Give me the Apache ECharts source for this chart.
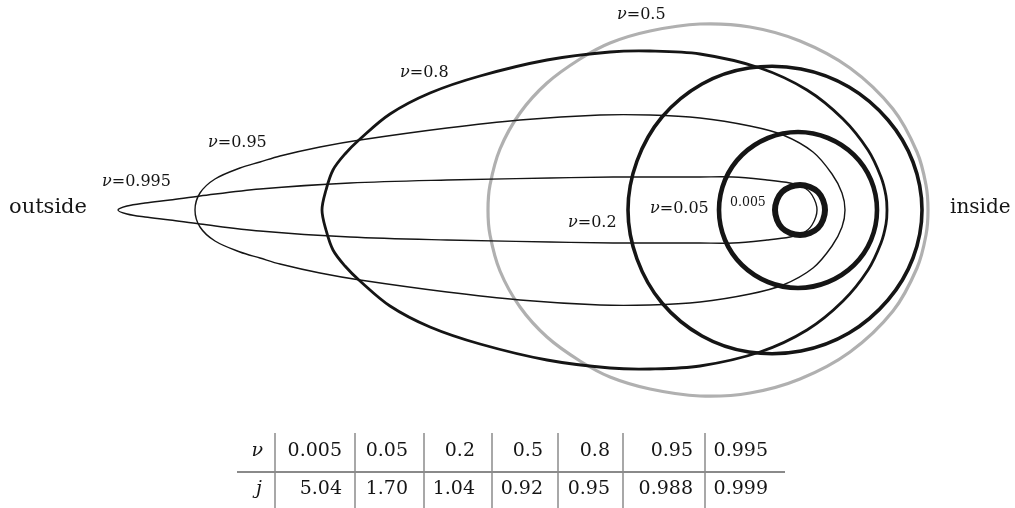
<!DOCTYPE html>
<html><head><meta charset="utf-8">
<script src="https://cdn.jsdelivr.net/npm/echarts@6/dist/echarts.min.js"></script>
<style>html,body{margin:0;padding:0;background:#fff}#c{width:1015px;height:508px}</style>
</head><body><div id="c"></div>
<script>
// ---- data (x to the right, y up; centre of the innermost orbit at 0,0) ----
const nuValues = ['0.005', '0.05', '0.2', '0.5', '0.8', '0.95', '0.995'];
const jValues  = ['5.04', '1.70', '1.04', '0.92', '0.95', '0.988', '0.999'];

const curveNu0005 = [[-25,0],[-23,10],[-18,18],[-10,23],[0,25],[10,23],[18,18],[23,10],[25,0],
  [23,-10],[18,-18],[10,-23],[0,-25],[-10,-23],[-18,-18],[-23,-10]];
const curveNu005 = [[-81,0],[-75,30],[-58,55],[-32,72],[-2,78],[28,72],[54,55],[71,30],[77,0],
  [71,-30],[54,-55],[28,-72],[-2,-78],[-32,-72],[-58,-55],[-75,-30]];
const curveNu02 = [[-172,0],[-163,49],[-138,93],[-98,126],[-51,142],[1,141],[49,123],[88,90],[113,48],[122,0],
  [113,-48],[88,-90],[49,-123],[1,-141],[-51,-142],[-98,-126],[-138,-93],[-163,-49]];
const curveNu05 = [[-312,0],[-310,25],[-300,61],[-280,97],[-253,127],[-220,151],[-190,167],[-150,179],[-100,186],[-50,183],[0,169],[50,142],[93,101],[117,58],[126,25],[128,0],
  [126,-25],[117,-58],[93,-101],[50,-142],[0,-169],[-50,-183],[-100,-186],[-150,-179],[-190,-167],[-220,-151],[-253,-127],[-280,-97],[-300,-61],[-310,-25]];
const curveNu08 = [[-478,0],[-474,20],[-467,40],[-455,56],[-440,71],[-410,96],[-370,117],[-320,134],[-253,150],[-190,158],[-150,159],[-100,156],[-40,142],[7,120],[43,91],[68,60],[81,33],[86,14],[87,0],
  [86,-14],[81,-33],[68,-60],[43,-91],[7,-120],[-40,-142],[-100,-156],[-150,-159],[-190,-158],[-253,-150],[-320,-134],[-370,-117],[-410,-96],[-440,-71],[-455,-56],[-467,-40],[-474,-20]];
const curveNu095 = [[-605,0],[-600,17],[-585,31],[-560,42],[-540,48],[-520,54],[-480,63],[-440,70],[-353,82],[-280,90],[-200,95],[-150,95],[-100,92],[-50,84],[-17,75],[13,58],[32,36],[42,17],[45,0],
  [42,-17],[32,-36],[13,-58],[-17,-75],[-50,-84],[-100,-92],[-150,-95],[-200,-95],[-280,-90],[-353,-82],[-440,-70],[-480,-63],[-520,-54],[-540,-48],[-560,-42],[-585,-31],[-600,-17]];
const curveNu0995 = [[-682,0],[-673,4],[-655,7],[-630,10],[-600,14],[-540,21],[-450,27],[-353,30],[-250,32],[-187,33],[-100,33],[-67,33],[-33,30],[-10,27],[3,23],[12,15],[17,0],
  [12,-15],[3,-23],[-10,-27],[-33,-30],[-67,-33],[-100,-33],[-187,-33],[-250,-32],[-353,-30],[-450,-27],[-540,-21],[-600,-14],[-630,-10],[-655,-7],[-673,-4]];

// ---- styling / layout ----
const FONT = '"DejaVu Serif", "Liberation Serif", serif';
const INK = '#151515';
const curves = [
  { pts: curveNu05,   color: '#b0b0b0', width: 3.2 },
  { pts: curveNu0995, color: INK, width: 1.4 },
  { pts: curveNu095,  color: INK, width: 1.4 },
  { pts: curveNu08,   color: INK, width: 2.8 },
  { pts: curveNu02,   color: INK, width: 3.6 },
  { pts: curveNu005,  color: INK, width: 4.6 },
  { pts: curveNu0005, color: INK, width: 6 }
];

// closed smooth path through projected points (chord-length weighted tangents)
function closedSmoothPath(P) {
  const n = P.length;
  const d = function (a, b) { return Math.hypot(b[0] - a[0], b[1] - a[1]) || 1e-6; };
  const T = [];
  for (let i = 0; i < n; i++) {
    const a = P[(i - 1 + n) % n], b = P[(i + 1) % n], c = P[i];
    const s = d(a, c) + d(c, b);
    T.push([(b[0] - a[0]) / s, (b[1] - a[1]) / s]);
  }
  let path = 'M' + P[0][0] + ' ' + P[0][1];
  for (let i = 0; i < n; i++) {
    const p0 = P[i], p1 = P[(i + 1) % n], t0 = T[i], t1 = T[(i + 1) % n];
    const L = d(p0, p1) / 3;
    path += ' C' + (p0[0] + t0[0] * L) + ' ' + (p0[1] + t0[1] * L) + ' ' +
      (p1[0] - t1[0] * L) + ' ' + (p1[1] - t1[1] * L) + ' ' + p1[0] + ' ' + p1[1];
  }
  return path + ' Z';
}

function label(text, x, y, size, withNu) {
  const rich = { i: { fontStyle: 'italic', fontFamily: FONT, fontSize: size, fill: INK },
                 n: { fontFamily: FONT, fontSize: size, fill: INK } };
  return { type: 'text', x: x, y: y, silent: true,
    style: { text: withNu ? '{i|ν}{n|' + text + '}' : '{n|' + text + '}', rich: rich,
      fontFamily: FONT, fontSize: size, fill: INK, align: 'left', verticalAlign: 'middle' } };
}

const graphics = [
  label('=0.5', 617, 15, 16, true),
  label('=0.8', 400, 73, 16, true),
  label('=0.95', 208, 143, 16, true),
  label('=0.995', 102, 182, 16, true),
  label('=0.2', 568, 223, 16, true),
  label('=0.05', 650, 209, 16, true),
  label('0.005', 730, 203, 12.5, false),
  label('outside', 9, 208, 21, false),
  label('inside', 950, 208, 20, false)
];

// table
const colRight = [342, 408, 475, 543, 610, 693, 768];
const seps = [275, 355, 424, 492, 558, 623, 705];
const row1Y = 451, row2Y = 489;
seps.forEach(function (sx) {
  graphics.push({ type: 'line', silent: true, shape: { x1: sx, y1: 433, x2: sx, y2: 508 },
    style: { stroke: '#6e6e6e', lineWidth: 1.2 } });
});
graphics.push({ type: 'line', silent: true, shape: { x1: 237, y1: 472, x2: 785, y2: 472 },
  style: { stroke: '#8a8a8a', lineWidth: 2 } });
function cell(text, xr, y, italic) {
  return { type: 'text', x: xr, y: y, silent: true,
    style: { text: text, fontFamily: FONT, fontSize: 19, fontStyle: italic ? 'italic' : 'normal',
      fill: INK, align: 'right', verticalAlign: 'middle' } };
}
graphics.push(cell('ν', 263, row1Y, true));
graphics.push(cell('j', 262, row2Y, true));
nuValues.forEach(function (v, k) { graphics.push(cell(v, colRight[k], row1Y, false)); });
jValues.forEach(function (v, k) { graphics.push(cell(v, colRight[k], row2Y, false)); });

const chart = echarts.init(document.getElementById('c'));
chart.setOption({
  animation: false,
  backgroundColor: '#fff',
  grid: { left: 0, right: 0, top: 0, bottom: 0 },
  xAxis: { type: 'value', min: -800, max: 215, show: false },
  yAxis: { type: 'value', min: -298, max: 210, show: false },
  graphic: graphics,
  series: curves.map(function (c) {
    return {
      type: 'custom', coordinateSystem: 'cartesian2d', silent: true,
      data: c.pts, encode: { x: 0, y: 1 }, clip: false,
      renderItem: function (params, api) {
        if (params.dataIndex !== 0) return null;
        const points = c.pts.map(function (p) { return api.coord(p); });
        return { type: 'path', shape: { pathData: closedSmoothPath(points) },
          style: { fill: 'none', stroke: c.color, lineWidth: c.width } };
      }
    };
  })
});
</script>
</body></html>
